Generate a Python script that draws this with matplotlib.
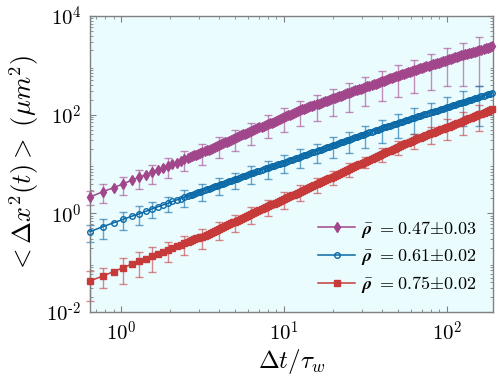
import numpy as np
import matplotlib
matplotlib.use("Agg")
import matplotlib.pyplot as plt
from matplotlib.ticker import LogLocator, NullFormatter, FixedLocator, FixedFormatter

plt.rcParams['mathtext.fontset'] = 'cm'
plt.rcParams['font.family'] = 'serif'
plt.rcParams['font.serif'] = ['cmr10', 'DejaVu Serif']

DT = 0.129
t_left = DT * np.arange(5, 21)                      # individual early frames
t_right = 10 ** (0.425 + 0.0125 * np.arange(149))   # later frames, thinned
t = np.concatenate([t_left, t_right])

# ---- log10 of MSD (um^2) ----
log_msd_047 = [0.33, 0.44, 0.52, 0.60, 0.67, 0.73, 0.78, 0.83, 0.88, 0.92, 0.96, 1.00, 1.03, 1.07, 1.10, 1.13,
               1.14, 1.16, 1.18, 1.19, 1.21, 1.23, 1.24, 1.26, 1.28, 1.29,
               1.31, 1.33, 1.35, 1.37, 1.38, 1.40, 1.42, 1.44, 1.45, 1.47,
               1.49, 1.51, 1.53, 1.54, 1.56, 1.58, 1.60, 1.61, 1.63, 1.65,
               1.67, 1.69, 1.70, 1.72, 1.74, 1.76, 1.77, 1.79, 1.81, 1.83,
               1.84, 1.86, 1.88, 1.90, 1.92, 1.93, 1.95, 1.97, 1.99, 2.00,
               2.02, 2.04, 2.06, 2.08, 2.09, 2.11, 2.12, 2.14, 2.15, 2.17,
               2.18, 2.19, 2.21, 2.22, 2.24, 2.25, 2.27, 2.28, 2.30, 2.31,
               2.33, 2.34, 2.36, 2.37, 2.38, 2.40, 2.41, 2.43, 2.44, 2.46,
               2.47, 2.49, 2.50, 2.52, 2.53, 2.55, 2.56, 2.58, 2.59, 2.60,
               2.62, 2.63, 2.65, 2.66, 2.68, 2.69, 2.71, 2.72, 2.74, 2.75,
               2.76, 2.78, 2.79, 2.81, 2.82, 2.83, 2.85, 2.86, 2.87, 2.89,
               2.90, 2.91, 2.92, 2.94, 2.95, 2.96, 2.98, 2.99, 3.00, 3.02,
               3.03, 3.04, 3.05, 3.07, 3.08, 3.09, 3.11, 3.12, 3.13, 3.14,
               3.16, 3.17, 3.18, 3.20, 3.21, 3.22, 3.23, 3.25, 3.26, 3.27,
               3.28, 3.30, 3.31, 3.32, 3.34, 3.35, 3.36, 3.38, 3.39]
log_msd_061 = [-0.37, -0.27, -0.19, -0.12, -0.06, -0.01, 0.04, 0.09, 0.13, 0.17, 0.20, 0.24, 0.27, 0.30, 0.33, 0.35,
               0.37, 0.38, 0.40, 0.41, 0.43, 0.44, 0.46, 0.47, 0.49, 0.50,
               0.52, 0.53, 0.55, 0.56, 0.58, 0.59, 0.60, 0.62, 0.63, 0.65,
               0.66, 0.68, 0.69, 0.70, 0.72, 0.73, 0.75, 0.76, 0.78, 0.79,
               0.81, 0.82, 0.83, 0.85, 0.86, 0.88, 0.89, 0.91, 0.92, 0.93,
               0.95, 0.96, 0.98, 0.99, 1.01, 1.02, 1.03, 1.05, 1.06, 1.08,
               1.09, 1.11, 1.12, 1.13, 1.15, 1.16, 1.18, 1.19, 1.21, 1.22,
               1.24, 1.25, 1.26, 1.28, 1.29, 1.31, 1.32, 1.34, 1.35, 1.36,
               1.38, 1.39, 1.41, 1.42, 1.44, 1.45, 1.46, 1.48, 1.49, 1.51,
               1.52, 1.54, 1.55, 1.56, 1.58, 1.59, 1.61, 1.62, 1.64, 1.65,
               1.67, 1.68, 1.69, 1.71, 1.72, 1.74, 1.75, 1.77, 1.78, 1.79,
               1.81, 1.82, 1.84, 1.85, 1.86, 1.88, 1.89, 1.90, 1.92, 1.93,
               1.94, 1.95, 1.97, 1.98, 1.99, 2.01, 2.02, 2.03, 2.05, 2.06,
               2.07, 2.08, 2.10, 2.11, 2.12, 2.14, 2.15, 2.16, 2.17, 2.19,
               2.20, 2.21, 2.23, 2.24, 2.25, 2.26, 2.28, 2.29, 2.30, 2.32,
               2.33, 2.34, 2.35, 2.37, 2.38, 2.39, 2.41, 2.42, 2.43]
log_msd_075 = [-1.37, -1.27, -1.18, -1.10, -1.03, -0.97, -0.92, -0.87, -0.83, -0.78, -0.74, -0.71, -0.67, -0.64, -0.61, -0.58,
               -0.56, -0.55, -0.53, -0.51, -0.50, -0.48, -0.47, -0.45, -0.43, -0.41,
               -0.39, -0.37, -0.36, -0.34, -0.32, -0.30, -0.28, -0.26, -0.24, -0.22,
               -0.20, -0.18, -0.17, -0.15, -0.13, -0.11, -0.09, -0.07, -0.05, -0.03,
               -0.01, 0.01, 0.02, 0.04, 0.06, 0.08, 0.10, 0.12, 0.14, 0.16,
               0.18, 0.19, 0.21, 0.23, 0.25, 0.27, 0.29, 0.31, 0.33, 0.35,
               0.37, 0.38, 0.40, 0.42, 0.44, 0.46, 0.48, 0.50, 0.52, 0.54,
               0.55, 0.57, 0.59, 0.61, 0.63, 0.65, 0.67, 0.69, 0.71, 0.72,
               0.74, 0.76, 0.78, 0.80, 0.82, 0.84, 0.86, 0.88, 0.90, 0.91,
               0.93, 0.95, 0.97, 0.99, 1.01, 1.03, 1.05, 1.07, 1.08, 1.10,
               1.12, 1.14, 1.16, 1.18, 1.20, 1.22, 1.24, 1.26, 1.27, 1.29,
               1.31, 1.33, 1.35, 1.37, 1.39, 1.40, 1.42, 1.43, 1.45, 1.47,
               1.48, 1.50, 1.52, 1.53, 1.55, 1.57, 1.58, 1.60, 1.62, 1.63,
               1.65, 1.66, 1.68, 1.70, 1.71, 1.73, 1.75, 1.76, 1.78, 1.79,
               1.81, 1.83, 1.84, 1.86, 1.88, 1.89, 1.91, 1.93, 1.94, 1.96,
               1.98, 1.99, 2.01, 2.02, 2.04, 2.06, 2.07, 2.09, 2.11]

# ---- error bars: sample indices and relative errors ----
eb_idx = [0, 1, 3, 5, 7, 10, 14] + list(range(22, 159, 8))
rel_err_047 = [0.30, 0.40, 0.40, 0.42, 0.43, 0.43, 0.44, 0.45, 0.45, 0.47, 0.48, 0.49, 0.51,
               0.53, 0.55, 0.57, 0.58, 0.59, 0.60, 0.63, 0.65, 0.68, 0.71, 0.77, 0.81]
rel_err_061 = [0.38, 0.45, 0.39, 0.42, 0.35, 0.34, 0.37, 0.37, 0.37, 0.37, 0.38, 0.39, 0.40,
               0.42, 0.43, 0.44, 0.46, 0.48, 0.49, 0.51, 0.54, 0.56, 0.60, 0.67, 0.74]
rel_err_075 = [0.60, 0.43, 0.53, 0.52, 0.52, 0.43, 0.43, 0.45, 0.39, 0.38, 0.38, 0.36, 0.36,
               0.34, 0.33, 0.32, 0.32, 0.26, 0.31, 0.32, 0.34, 0.38, 0.46, 0.48, 0.55]

labels = [r'$\bar{\boldsymbol{\rho}}\ {=}0.47{\pm}0.03$',
          r'$\bar{\boldsymbol{\rho}}\ {=}0.61{\pm}0.02$',
          r'$\bar{\boldsymbol{\rho}}\ {=}0.75{\pm}0.02$']
colors = ['#A2468C', '#0A69A6', '#C63A3A']
markers = ['d', 'o', 's']
msizes = [5.2, 4.0, 3.9]
series = [log_msd_047, log_msd_061, log_msd_075]
errs = [rel_err_047, rel_err_061, rel_err_075]

fig = plt.figure(figsize=(4.98, 3.92), dpi=100)
ax = fig.add_axes([90 / 498, 1 - 312 / 392, 403 / 498, 296 / 392])
ax.set_facecolor('#EBFCFF')

for lg, rel, c, m, ms, lab in zip(series, errs, colors, markers, msizes, labels):
    y = 10.0 ** np.asarray(lg)
    ye = y[eb_idx]
    ax.errorbar(t[eb_idx], ye, yerr=np.asarray(rel) * ye, fmt='none', ecolor=c,
                alpha=0.6, elinewidth=1.0, capsize=3, capthick=1.0, zorder=2, clip_on=False)
    face = 'none' if m == 'o' else c
    ax.plot(t, y, color=c, marker=m, markersize=ms, markerfacecolor=face,
            markeredgewidth=1.0, linewidth=1.1, label=lab, zorder=3, clip_on=False)

ax.set_xscale('log')
ax.set_yscale('log')
ax.set_xlim(0.645, 192)
ax.set_ylim(1e-2, 1e4)

ax.xaxis.set_major_locator(FixedLocator([1, 10, 100]))
ax.xaxis.set_major_formatter(FixedFormatter([r'$10^{0}$', r'$10^{1}$', r'$10^{2}$']))
ax.yaxis.set_major_locator(FixedLocator([1e-2, 1, 1e2, 1e4]))
ax.yaxis.set_major_formatter(FixedFormatter([r'$10^{\text{-}2}$', r'$10^{0}$', r'$10^{2}$', r'$10^{4}$']))
ax.xaxis.set_minor_locator(LogLocator(base=10, subs=np.arange(2, 10), numticks=20))
ax.yaxis.set_minor_locator(LogLocator(base=10, subs=np.arange(2, 10), numticks=20))
ax.xaxis.set_minor_formatter(NullFormatter())
ax.yaxis.set_minor_formatter(NullFormatter())

frame_col = '#808080'
for s in ax.spines.values():
    s.set_color(frame_col)
    s.set_linewidth(1.0)
ax.tick_params(which='both', direction='in', top=True, right=True, color=frame_col,
               labelsize=15, labelcolor='black')
ax.tick_params(which='major', length=4.5, width=0.8, pad=6)
ax.tick_params(which='minor', length=2.5, width=0.6)

ax.set_xlabel(r'$\Delta t/\tau_w$', fontsize=18, labelpad=2)
ax.set_ylabel(r'$<\Delta x^2(t)>\ (\mu m^2)$', fontsize=19, labelpad=4)

ax.legend(loc='lower right', bbox_to_anchor=(0.99, 0.014), frameon=False, fontsize=13,
          handlelength=2.1, handletextpad=0.3, labelspacing=0.4, borderaxespad=0.3,
          numpoints=1)

fig.savefig('out.png', dpi=100)
